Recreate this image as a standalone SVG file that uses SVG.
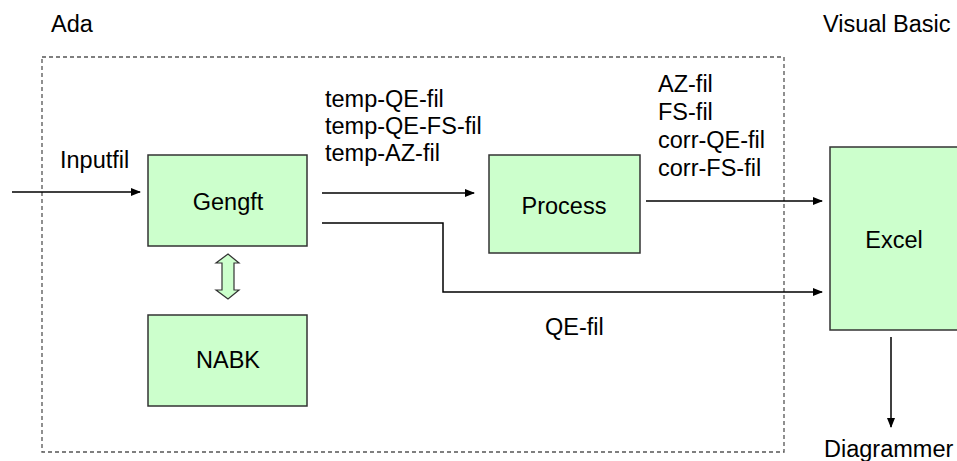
<svg xmlns="http://www.w3.org/2000/svg" width="957" height="461" viewBox="0 0 957 461">
  <defs>
    <marker id="arrow" markerWidth="10" markerHeight="8" refX="9" refY="4" orient="auto" markerUnits="userSpaceOnUse">
      <path d="M0,0 L10,4 L0,8 Z" fill="#000"/>
    </marker>
  </defs>
  <style>
    text { font-family: "Liberation Sans", Arial, sans-serif; font-size: 23.5px; fill: #000; }
    .box { fill: #ccffcc; stroke: #333; stroke-width: 1.5; }
    .link { fill: none; stroke: #000; stroke-width: 1.5; }
    .frame { fill: none; stroke: #555; stroke-width: 1.3; stroke-dasharray: 4 3; }
    .mid { text-anchor: middle; }
  </style>
  <rect width="957" height="461" fill="#fff"/>

  <!-- Ada boundary -->
  <rect class="frame" x="42" y="57" width="742" height="395"/>
  <text x="51" y="32">Ada</text>
  <text x="823" y="32">Visual Basic</text>

  <g id="connectors">
    <line class="link" x1="12" y1="192" x2="140" y2="192" marker-end="url(#arrow)"/>
    <line class="link" x1="322" y1="193" x2="474" y2="193" marker-end="url(#arrow)"/>
    <line class="link" x1="646" y1="201" x2="822" y2="201" marker-end="url(#arrow)"/>
    <polyline class="link" points="322,223 443,223 443,292 822,292" marker-end="url(#arrow)"/>
    <line class="link" x1="891" y1="337" x2="891" y2="427" marker-end="url(#arrow)"/>
    <polygon points="228,254 239,263 234,263 234,290 239,290 228,299 216,290 222,290 222,263 216,263" fill="#ccffcc" stroke="#333" stroke-width="1.2"/>
  </g>

  <g id="labels">
    <text x="60" y="168">Inputfil</text>
    <text x="325" y="107">temp-QE-fil</text>
    <text x="325" y="134">temp-QE-FS-fil</text>
    <text x="325" y="161">temp-AZ-fil</text>
    <text x="658" y="92">AZ-fil</text>
    <text x="658" y="120">FS-fil</text>
    <text x="658" y="148">corr-QE-fil</text>
    <text x="658" y="176">corr-FS-fil</text>
    <text x="545" y="335">QE-fil</text>
    <text x="824" y="457">Diagrammer</text>
  </g>

  <g id="gengft">
    <rect class="box" x="148" y="155" width="159" height="91"/>
    <text class="mid" x="228" y="210">Gengft</text>
  </g>
  <g id="nabk">
    <rect class="box" x="148" y="315" width="159" height="91"/>
    <text class="mid" x="228" y="368">NABK</text>
  </g>
  <g id="process">
    <rect class="box" x="489" y="155" width="151" height="98"/>
    <text class="mid" x="564" y="214">Process</text>
  </g>
  <g id="excel">
    <rect class="box" x="830" y="147" width="130" height="183"/>
    <text class="mid" x="894" y="248">Excel</text>
  </g>
</svg>
